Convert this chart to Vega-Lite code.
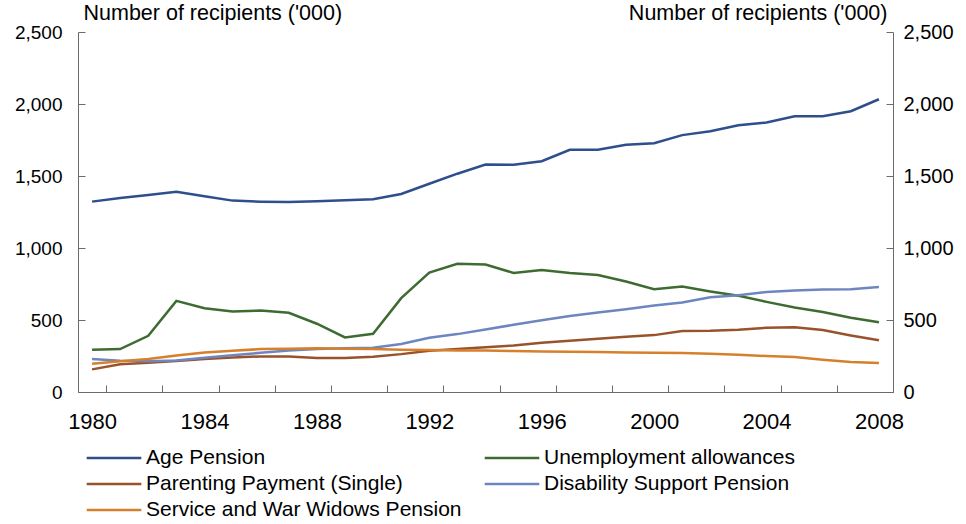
{
  "$schema": "https://vega.github.io/schema/vega-lite/v6.json",
  "width": 815,
  "height": 360,
  "autosize": {"type": "none"},
  "padding": {"left": 78, "top": 32, "right": 73, "bottom": 132},
  "config": {
    "view": {"stroke": null},
    "font": "Liberation Sans",
    "axis": {
      "grid": false,
      "domainColor": "#6a6a6a",
      "tickColor": "#6a6a6a",
      "tickWidth": 1,
      "domainWidth": 1,
      "labelColor": "#000000",
      "titleColor": "#000000",
      "labelFont": "Liberation Sans",
      "titleFont": "Liberation Sans",
      "titleFontWeight": "normal"
    }
  },
  "data": {
    "values": [
      {"year": 1980, "series": "Age Pension", "value": 1322},
      {"year": 1981, "series": "Age Pension", "value": 1347},
      {"year": 1982, "series": "Age Pension", "value": 1368},
      {"year": 1983, "series": "Age Pension", "value": 1391},
      {"year": 1984, "series": "Age Pension", "value": 1359},
      {"year": 1985, "series": "Age Pension", "value": 1329},
      {"year": 1986, "series": "Age Pension", "value": 1322},
      {"year": 1987, "series": "Age Pension", "value": 1319},
      {"year": 1988, "series": "Age Pension", "value": 1324},
      {"year": 1989, "series": "Age Pension", "value": 1331},
      {"year": 1990, "series": "Age Pension", "value": 1338},
      {"year": 1991, "series": "Age Pension", "value": 1375},
      {"year": 1992, "series": "Age Pension", "value": 1446},
      {"year": 1993, "series": "Age Pension", "value": 1516},
      {"year": 1994, "series": "Age Pension", "value": 1580},
      {"year": 1995, "series": "Age Pension", "value": 1578},
      {"year": 1996, "series": "Age Pension", "value": 1603},
      {"year": 1997, "series": "Age Pension", "value": 1682},
      {"year": 1998, "series": "Age Pension", "value": 1682},
      {"year": 1999, "series": "Age Pension", "value": 1717},
      {"year": 2000, "series": "Age Pension", "value": 1728},
      {"year": 2001, "series": "Age Pension", "value": 1784},
      {"year": 2002, "series": "Age Pension", "value": 1811},
      {"year": 2003, "series": "Age Pension", "value": 1853},
      {"year": 2004, "series": "Age Pension", "value": 1871},
      {"year": 2005, "series": "Age Pension", "value": 1915},
      {"year": 2006, "series": "Age Pension", "value": 1915},
      {"year": 2007, "series": "Age Pension", "value": 1950},
      {"year": 2008, "series": "Age Pension", "value": 2033},

      {"year": 1980, "series": "Unemployment allowances", "value": 293},
      {"year": 1981, "series": "Unemployment allowances", "value": 298},
      {"year": 1982, "series": "Unemployment allowances", "value": 390},
      {"year": 1983, "series": "Unemployment allowances", "value": 633},
      {"year": 1984, "series": "Unemployment allowances", "value": 582},
      {"year": 1985, "series": "Unemployment allowances", "value": 559},
      {"year": 1986, "series": "Unemployment allowances", "value": 566},
      {"year": 1987, "series": "Unemployment allowances", "value": 550},
      {"year": 1988, "series": "Unemployment allowances", "value": 474},
      {"year": 1989, "series": "Unemployment allowances", "value": 379},
      {"year": 1990, "series": "Unemployment allowances", "value": 404},
      {"year": 1991, "series": "Unemployment allowances", "value": 652},
      {"year": 1992, "series": "Unemployment allowances", "value": 829},
      {"year": 1993, "series": "Unemployment allowances", "value": 890},
      {"year": 1994, "series": "Unemployment allowances", "value": 885},
      {"year": 1995, "series": "Unemployment allowances", "value": 827},
      {"year": 1996, "series": "Unemployment allowances", "value": 848},
      {"year": 1997, "series": "Unemployment allowances", "value": 827},
      {"year": 1998, "series": "Unemployment allowances", "value": 813},
      {"year": 1999, "series": "Unemployment allowances", "value": 767},
      {"year": 2000, "series": "Unemployment allowances", "value": 714},
      {"year": 2001, "series": "Unemployment allowances", "value": 732},
      {"year": 2002, "series": "Unemployment allowances", "value": 698},
      {"year": 2003, "series": "Unemployment allowances", "value": 668},
      {"year": 2004, "series": "Unemployment allowances", "value": 626},
      {"year": 2005, "series": "Unemployment allowances", "value": 587},
      {"year": 2006, "series": "Unemployment allowances", "value": 555},
      {"year": 2007, "series": "Unemployment allowances", "value": 515},
      {"year": 2008, "series": "Unemployment allowances", "value": 485},

      {"year": 1980, "series": "Parenting Payment (Single)", "value": 157},
      {"year": 1981, "series": "Parenting Payment (Single)", "value": 192},
      {"year": 1982, "series": "Parenting Payment (Single)", "value": 203},
      {"year": 1983, "series": "Parenting Payment (Single)", "value": 215},
      {"year": 1984, "series": "Parenting Payment (Single)", "value": 229},
      {"year": 1985, "series": "Parenting Payment (Single)", "value": 240},
      {"year": 1986, "series": "Parenting Payment (Single)", "value": 247},
      {"year": 1987, "series": "Parenting Payment (Single)", "value": 247},
      {"year": 1988, "series": "Parenting Payment (Single)", "value": 236},
      {"year": 1989, "series": "Parenting Payment (Single)", "value": 236},
      {"year": 1990, "series": "Parenting Payment (Single)", "value": 245},
      {"year": 1991, "series": "Parenting Payment (Single)", "value": 263},
      {"year": 1992, "series": "Parenting Payment (Single)", "value": 286},
      {"year": 1993, "series": "Parenting Payment (Single)", "value": 298},
      {"year": 1994, "series": "Parenting Payment (Single)", "value": 310},
      {"year": 1995, "series": "Parenting Payment (Single)", "value": 323},
      {"year": 1996, "series": "Parenting Payment (Single)", "value": 342},
      {"year": 1997, "series": "Parenting Payment (Single)", "value": 356},
      {"year": 1998, "series": "Parenting Payment (Single)", "value": 370},
      {"year": 1999, "series": "Parenting Payment (Single)", "value": 384},
      {"year": 2000, "series": "Parenting Payment (Single)", "value": 395},
      {"year": 2001, "series": "Parenting Payment (Single)", "value": 423},
      {"year": 2002, "series": "Parenting Payment (Single)", "value": 425},
      {"year": 2003, "series": "Parenting Payment (Single)", "value": 432},
      {"year": 2004, "series": "Parenting Payment (Single)", "value": 446},
      {"year": 2005, "series": "Parenting Payment (Single)", "value": 450},
      {"year": 2006, "series": "Parenting Payment (Single)", "value": 430},
      {"year": 2007, "series": "Parenting Payment (Single)", "value": 393},
      {"year": 2008, "series": "Parenting Payment (Single)", "value": 360},

      {"year": 1980, "series": "Disability Support Pension", "value": 229},
      {"year": 1981, "series": "Disability Support Pension", "value": 217},
      {"year": 1982, "series": "Disability Support Pension", "value": 213},
      {"year": 1983, "series": "Disability Support Pension", "value": 219},
      {"year": 1984, "series": "Disability Support Pension", "value": 238},
      {"year": 1985, "series": "Disability Support Pension", "value": 256},
      {"year": 1986, "series": "Disability Support Pension", "value": 272},
      {"year": 1987, "series": "Disability Support Pension", "value": 289},
      {"year": 1988, "series": "Disability Support Pension", "value": 298},
      {"year": 1989, "series": "Disability Support Pension", "value": 303},
      {"year": 1990, "series": "Disability Support Pension", "value": 307},
      {"year": 1991, "series": "Disability Support Pension", "value": 333},
      {"year": 1992, "series": "Disability Support Pension", "value": 377},
      {"year": 1993, "series": "Disability Support Pension", "value": 402},
      {"year": 1994, "series": "Disability Support Pension", "value": 434},
      {"year": 1995, "series": "Disability Support Pension", "value": 467},
      {"year": 1996, "series": "Disability Support Pension", "value": 499},
      {"year": 1997, "series": "Disability Support Pension", "value": 527},
      {"year": 1998, "series": "Disability Support Pension", "value": 552},
      {"year": 1999, "series": "Disability Support Pension", "value": 575},
      {"year": 2000, "series": "Disability Support Pension", "value": 601},
      {"year": 2001, "series": "Disability Support Pension", "value": 621},
      {"year": 2002, "series": "Disability Support Pension", "value": 658},
      {"year": 2003, "series": "Disability Support Pension", "value": 672},
      {"year": 2004, "series": "Disability Support Pension", "value": 695},
      {"year": 2005, "series": "Disability Support Pension", "value": 705},
      {"year": 2006, "series": "Disability Support Pension", "value": 712},
      {"year": 2007, "series": "Disability Support Pension", "value": 714},
      {"year": 2008, "series": "Disability Support Pension", "value": 730},

      {"year": 1980, "series": "Service and War Widows Pension", "value": 196},
      {"year": 1981, "series": "Service and War Widows Pension", "value": 213},
      {"year": 1982, "series": "Service and War Widows Pension", "value": 229},
      {"year": 1983, "series": "Service and War Widows Pension", "value": 254},
      {"year": 1984, "series": "Service and War Widows Pension", "value": 275},
      {"year": 1985, "series": "Service and War Widows Pension", "value": 286},
      {"year": 1986, "series": "Service and War Widows Pension", "value": 298},
      {"year": 1987, "series": "Service and War Widows Pension", "value": 300},
      {"year": 1988, "series": "Service and War Widows Pension", "value": 303},
      {"year": 1989, "series": "Service and War Widows Pension", "value": 300},
      {"year": 1990, "series": "Service and War Widows Pension", "value": 298},
      {"year": 1991, "series": "Service and War Widows Pension", "value": 293},
      {"year": 1992, "series": "Service and War Widows Pension", "value": 291},
      {"year": 1993, "series": "Service and War Widows Pension", "value": 289},
      {"year": 1994, "series": "Service and War Widows Pension", "value": 289},
      {"year": 1995, "series": "Service and War Widows Pension", "value": 284},
      {"year": 1996, "series": "Service and War Widows Pension", "value": 282},
      {"year": 1997, "series": "Service and War Widows Pension", "value": 280},
      {"year": 1998, "series": "Service and War Widows Pension", "value": 277},
      {"year": 1999, "series": "Service and War Widows Pension", "value": 275},
      {"year": 2000, "series": "Service and War Widows Pension", "value": 273},
      {"year": 2001, "series": "Service and War Widows Pension", "value": 270},
      {"year": 2002, "series": "Service and War Widows Pension", "value": 266},
      {"year": 2003, "series": "Service and War Widows Pension", "value": 259},
      {"year": 2004, "series": "Service and War Widows Pension", "value": 250},
      {"year": 2005, "series": "Service and War Widows Pension", "value": 243},
      {"year": 2006, "series": "Service and War Widows Pension", "value": 224},
      {"year": 2007, "series": "Service and War Widows Pension", "value": 208},
      {"year": 2008, "series": "Service and War Widows Pension", "value": 201}
    ]
  },
  "layer": [
    {
      "mark": {"type": "line", "strokeWidth": 2.5},
      "encoding": {
        "x": {
          "field": "year",
          "type": "quantitative",
          "scale": {"domain": [1979.5, 2008.5], "nice": false, "zero": false},
          "axis": {
            "title": null,
            "values": [1980.5, 1981.5, 1982.5, 1983.5, 1984.5, 1985.5, 1986.5, 1987.5, 1988.5, 1989.5, 1990.5, 1991.5, 1992.5, 1993.5, 1994.5, 1995.5, 1996.5, 1997.5, 1998.5, 1999.5, 2000.5, 2001.5, 2002.5, 2003.5, 2004.5, 2005.5, 2006.5, 2007.5, 2008.5],
            "labelExpr": "(datum.value - 0.5) % 4 == 0 ? format(datum.value - 0.5, 'd') : ''",
            "labelOffset": -14,
            "labelOverlap": false,
            "labelFlush": false,
            "labelBound": false,
            "tickSize": -7,
            "labelPadding": 26,
            "labelFontSize": 22
          }
        },
        "y": {
          "field": "value",
          "type": "quantitative",
          "scale": {"domain": [0, 2500], "nice": false},
          "axis": {
            "values": [0, 500, 1000, 1500, 2000, 2500],
            "format": ",d",
            "tickSize": -7,
            "labelPadding": 23,
            "labelFontSize": 19,
            "title": "Number of recipients ('000)",
            "titleAngle": 0,
            "titleX": 5,
            "titleY": -13,
            "titleAlign": "left",
            "titleBaseline": "alphabetic",
            "titleFontSize": 21.5
          }
        },
        "color": {
          "field": "series",
          "type": "nominal",
          "scale": {
            "domain": ["Age Pension", "Parenting Payment (Single)", "Service and War Widows Pension", "Unemployment allowances", "Disability Support Pension"],
            "range": ["#2e4e8c", "#98532c", "#d6802c", "#3e6b32", "#6d86c0"]
          },
          "legend": {
            "orient": "none",
            "legendX": 24,
            "legendY": 414,
            "columns": 2,
            "title": null,
            "padding": 0,
            "symbolType": "M-2.6,0H2.6",
            "symbolSize": 441,
            "symbolStrokeWidth": 2.5,
            "symbolFillColor": "transparent",
            "labelFontSize": 21,
            "labelColor": "#000000",
            "labelOffset": 20,
            "labelLimit": 500,
            "columnPadding": 17,
            "rowPadding": 4
          }
        }
      }
    },
    {
      "mark": {"type": "line", "strokeOpacity": 0},
      "encoding": {
        "x": {"field": "year", "type": "quantitative"},
        "y": {
          "field": "value",
          "type": "quantitative",
          "scale": {"domain": [0, 2500], "nice": false},
          "axis": {
            "orient": "right",
            "values": [0, 500, 1000, 1500, 2000, 2500],
            "format": ",d",
            "tickSize": -7,
            "labelPadding": 17,
            "labelFontSize": 20,
            "title": "Number of recipients ('000)",
            "titleAngle": 0,
            "titleX": -6,
            "titleY": -13,
            "titleAlign": "right",
            "titleBaseline": "alphabetic",
            "titleFontSize": 21.5
          }
        },
        "detail": {"field": "series", "type": "nominal"}
      }
    }
  ],
  "resolve": {"scale": {"y": "independent"}}
}
